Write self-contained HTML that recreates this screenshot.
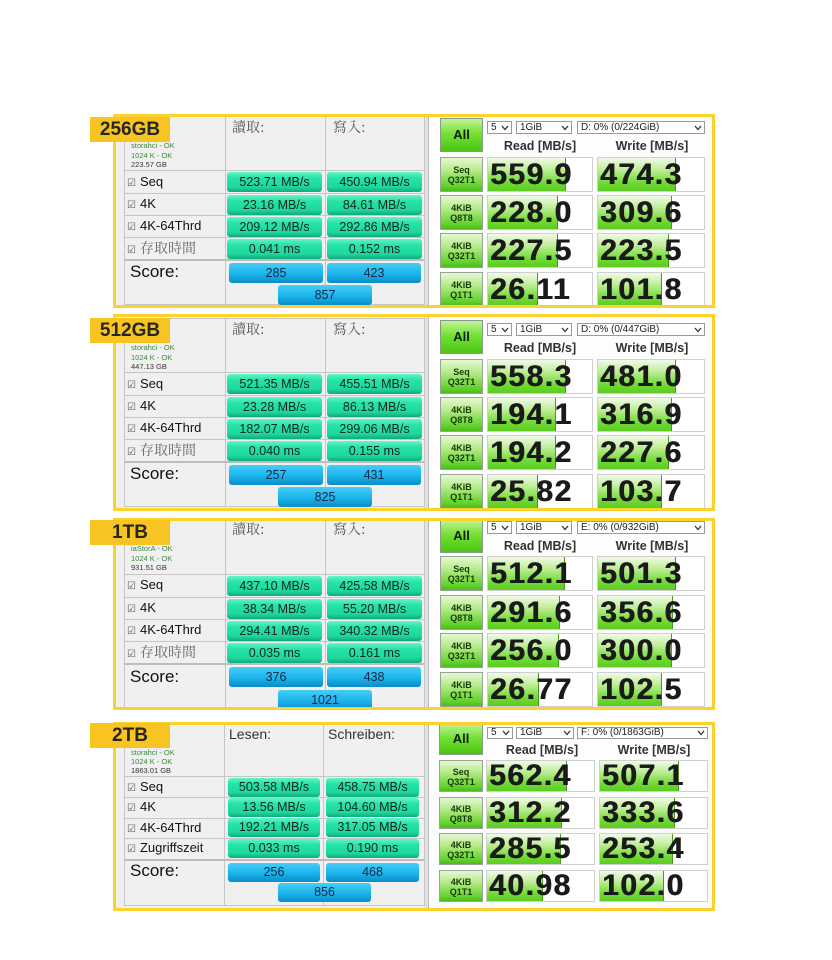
<!DOCTYPE html>
<html><head><meta charset="utf-8">
<style>
*{margin:0;padding:0;box-sizing:border-box}
html,body{width:832px;height:960px;background:#fff;overflow:hidden;font-family:"Liberation Sans","Noto Sans CJK TC",sans-serif}
.pn{position:absolute;left:113px;width:602px}
.pn div{position:absolute}
.frame{left:0;top:0;width:602px;border:3px solid #fdd22c;z-index:5}
.asbg{left:3px;top:3px;width:312px;background:#f0f0f0}
.cdbg{left:315px;top:3px;width:284px;background:#fdfdfd}
.sep{left:311px;top:3px;width:5px;background:#e2e2e2;border-right:1px solid #b8b8b8}
.lbl{left:-23px;width:80px;height:25px;background:#f8c422;z-index:6;font:bold 19px/25px "Liberation Sans",sans-serif;color:#262626;text-align:center}
.as,.cd{left:0;width:602px;height:0}
.tb{border:1px solid #c6c6c6}
.vl{width:1px;background:#c6c6c6}
.hl{height:1px;background:#c6c6c6;left:11px;width:301px}
.hd{font:14px/16px "Noto Serif CJK TC","Noto Serif CJK SC",serif;color:#555;white-space:nowrap}
.hd2{font:14px/16px "Liberation Sans",sans-serif;color:#333;white-space:nowrap}
.inf{left:18px;font:7.5px/9.5px "Liberation Sans",sans-serif;color:#3a8a3a;white-space:nowrap}
.inf b{font-weight:normal;color:#333}
.rl{left:14px;font:13px/20px "Liberation Sans",sans-serif;color:#111;white-space:nowrap}
.rl i{font-style:normal;font-family:"Noto Serif CJK TC","Noto Serif CJK SC",serif;color:#666;font-size:14px}
.ck{font-family:"DejaVu Sans",sans-serif;font-size:10px;color:#555;margin-right:4px}
.gb{height:20px;width:95px;border-radius:3px;background:linear-gradient(#66f3c8,#26e4a8 30%,#1ed89c 75%,#10aa80);font:12.5px/20px "Liberation Sans",sans-serif;color:#13261c;text-align:center}
.bb{height:20px;width:94px;border-radius:3px;background:linear-gradient(#46cdf6,#1ab4ec 55%,#0c8cc6);font:12.5px/20px "Liberation Sans",sans-serif;color:#17284a;text-align:center}
.sc{left:17px;font:17px/20px "Liberation Sans",sans-serif;color:#111}
.all{width:43px;height:34px;border:1px solid #8a9a8a;background:linear-gradient(#c2f29a,#74e234 45%,#4cc414);font:bold 13px/32px "Liberation Sans",sans-serif;color:#102010;text-align:center}
.dd{height:13px;border:1px solid #9a9a9a;background:#fff;font:10px/11px "Liberation Sans",sans-serif;color:#222;padding-left:3px;white-space:nowrap}
.dd svg{position:absolute;right:2px;top:3px}
.ch{font:bold 12.5px/14px "Liberation Sans",sans-serif;color:#333;width:120px;text-align:center}
.bt{width:43px;height:35px;border:1px solid #9aa39a;background:linear-gradient(#e6f8d4,#b2ea84 40%,#62d22c 85%,#4cbc1c);font:bold 9px/10px "Liberation Sans",sans-serif;color:#173a06;text-align:center;padding-top:7px}
.cl{height:35px;border:1px solid #cfcfcf;background:#fff;overflow:hidden}
.fl{left:0;top:0;bottom:0;background:linear-gradient(#f0fbe8,#c0ee98 35%,#70da34 75%,#5ccc22);border-right:1px solid #4a9a20}
.nv{left:2px;top:0;font:bold 30px/33px "Liberation Sans",sans-serif;letter-spacing:1.5px;color:#1a1a1a;white-space:nowrap;text-shadow:0.6px 0 0 #1a1a1a}
</style></head><body>

<!-- PANEL 1 -->
<div class="pn" style="top:114px;height:194px">
<div class="asbg" style="height:188px"></div>
<div class="cdbg" style="height:188px"></div>
<div class="sep" style="height:188px"></div>
<div class="frame" style="height:194px"></div>
<div class="lbl" style="top:3px">256GB</div>
<div class="as" style="top:0">
 <div class="tb" style="left:11px;top:2px;width:301px;height:189px"></div>
 <div class="vl" style="left:112px;top:2px;height:189px"></div>
 <div class="vl" style="left:212px;top:2px;height:189px"></div>
 <div class="hl" style="top:56px"></div>
 <div class="hl" style="top:79px"></div>
 <div class="hl" style="top:101px"></div>
 <div class="hl" style="top:123px"></div>
 <div class="hl" style="top:145px;height:2px;background:#bdbdbd"></div>
 <div class="hd" style="left:119px;top:5px">讀取:</div>
 <div class="hd" style="left:220px;top:5px">寫入:</div>
 <div class="inf" style="top:27px">storahci - OK<br>1024 K - OK<br><b>223.57 GB</b></div>
 <div class="rl" style="top:58px"><span class="ck">☑</span>Seq</div>
 <div class="rl" style="top:80px"><span class="ck">☑</span>4K</div>
 <div class="rl" style="top:102px"><span class="ck">☑</span>4K-64Thrd</div>
 <div class="rl" style="top:124px"><span class="ck">☑</span><i>存取時間</i></div>
 <div class="gb" style="left:114px;top:58px">523.71 MB/s</div>
 <div class="gb" style="left:214px;top:58px">450.94 MB/s</div>
 <div class="gb" style="left:114px;top:81px">23.16 MB/s</div>
 <div class="gb" style="left:214px;top:81px">84.61 MB/s</div>
 <div class="gb" style="left:114px;top:103px">209.12 MB/s</div>
 <div class="gb" style="left:214px;top:103px">292.86 MB/s</div>
 <div class="gb" style="left:114px;top:125px">0.041 ms</div>
 <div class="gb" style="left:214px;top:125px">0.152 ms</div>
 <div class="sc" style="top:148px">Score:</div>
 <div class="bb" style="left:116px;top:149px">285</div>
 <div class="bb" style="left:214px;top:149px">423</div>
 <div class="bb" style="left:165px;top:171px">857</div>
</div>
<div class="cd" style="top:0">
 <div class="all" style="left:327px;top:4px">All</div>
 <div class="dd" style="left:374px;top:7px;width:25px">5<svg width="8" height="6" viewBox="0 0 8 6"><polyline points="1,1 4,4.5 7,1" fill="none" stroke="#333" stroke-width="1.3"/></svg></div>
 <div class="dd" style="left:403px;top:7px;width:56px">1GiB<svg width="8" height="6" viewBox="0 0 8 6"><polyline points="1,1 4,4.5 7,1" fill="none" stroke="#333" stroke-width="1.3"/></svg></div>
 <div class="dd" style="left:464px;top:7px;width:128px">D: 0% (0/224GiB)<svg width="8" height="6" viewBox="0 0 8 6"><polyline points="1,1 4,4.5 7,1" fill="none" stroke="#333" stroke-width="1.3"/></svg></div>
 <div class="ch" style="left:367px;top:25px">Read [MB/s]</div>
 <div class="ch" style="left:479px;top:25px">Write [MB/s]</div>
 <div class="bt" style="left:327px;top:43px">Seq<br>Q32T1</div>
 <div class="cl" style="left:374px;top:43px;width:106px"><div class="fl" style="width:78px"></div><div class="nv">559.9</div></div>
 <div class="cl" style="left:484px;top:43px;width:108px"><div class="fl" style="width:78px"></div><div class="nv">474.3</div></div>
 <div class="bt" style="left:327px;top:81px">4KiB<br>Q8T8</div>
 <div class="cl" style="left:374px;top:81px;width:106px"><div class="fl" style="width:70px"></div><div class="nv">228.0</div></div>
 <div class="cl" style="left:484px;top:81px;width:108px"><div class="fl" style="width:74px"></div><div class="nv">309.6</div></div>
 <div class="bt" style="left:327px;top:119px">4KiB<br>Q32T1</div>
 <div class="cl" style="left:374px;top:119px;width:106px"><div class="fl" style="width:70px"></div><div class="nv">227.5</div></div>
 <div class="cl" style="left:484px;top:119px;width:108px"><div class="fl" style="width:71px"></div><div class="nv">223.5</div></div>
 <div class="bt" style="left:327px;top:158px">4KiB<br>Q1T1</div>
 <div class="cl" style="left:374px;top:158px;width:106px"><div class="fl" style="width:50px"></div><div class="nv">26.11</div></div>
 <div class="cl" style="left:484px;top:158px;width:108px"><div class="fl" style="width:64px"></div><div class="nv">101.8</div></div>
</div>
</div>

<!-- PANEL 2 -->
<div class="pn" style="top:314px;height:197px">
<div class="asbg" style="height:191px"></div>
<div class="cdbg" style="height:191px"></div>
<div class="sep" style="height:191px"></div>
<div class="frame" style="height:197px"></div>
<div class="lbl" style="top:4px">512GB</div>
<div class="as" style="top:2px">
 <div class="tb" style="left:11px;top:2px;width:301px;height:189px"></div>
 <div class="vl" style="left:112px;top:2px;height:189px"></div>
 <div class="vl" style="left:212px;top:2px;height:189px"></div>
 <div class="hl" style="top:56px"></div>
 <div class="hl" style="top:79px"></div>
 <div class="hl" style="top:101px"></div>
 <div class="hl" style="top:123px"></div>
 <div class="hl" style="top:145px;height:2px;background:#bdbdbd"></div>
 <div class="hd" style="left:119px;top:5px">讀取:</div>
 <div class="hd" style="left:220px;top:5px">寫入:</div>
 <div class="inf" style="top:27px">storahci - OK<br>1024 K - OK<br><b>447.13 GB</b></div>
 <div class="rl" style="top:58px"><span class="ck">☑</span>Seq</div>
 <div class="rl" style="top:80px"><span class="ck">☑</span>4K</div>
 <div class="rl" style="top:102px"><span class="ck">☑</span>4K-64Thrd</div>
 <div class="rl" style="top:124px"><span class="ck">☑</span><i>存取時間</i></div>
 <div class="gb" style="left:114px;top:58px">521.35 MB/s</div>
 <div class="gb" style="left:214px;top:58px">455.51 MB/s</div>
 <div class="gb" style="left:114px;top:81px">23.28 MB/s</div>
 <div class="gb" style="left:214px;top:81px">86.13 MB/s</div>
 <div class="gb" style="left:114px;top:103px">182.07 MB/s</div>
 <div class="gb" style="left:214px;top:103px">299.06 MB/s</div>
 <div class="gb" style="left:114px;top:125px">0.040 ms</div>
 <div class="gb" style="left:214px;top:125px">0.155 ms</div>
 <div class="sc" style="top:148px">Score:</div>
 <div class="bb" style="left:116px;top:149px">257</div>
 <div class="bb" style="left:214px;top:149px">431</div>
 <div class="bb" style="left:165px;top:171px">825</div>
</div>
<div class="cd" style="top:2px">
 <div class="all" style="left:327px;top:4px">All</div>
 <div class="dd" style="left:374px;top:7px;width:25px">5<svg width="8" height="6" viewBox="0 0 8 6"><polyline points="1,1 4,4.5 7,1" fill="none" stroke="#333" stroke-width="1.3"/></svg></div>
 <div class="dd" style="left:403px;top:7px;width:56px">1GiB<svg width="8" height="6" viewBox="0 0 8 6"><polyline points="1,1 4,4.5 7,1" fill="none" stroke="#333" stroke-width="1.3"/></svg></div>
 <div class="dd" style="left:464px;top:7px;width:128px">D: 0% (0/447GiB)<svg width="8" height="6" viewBox="0 0 8 6"><polyline points="1,1 4,4.5 7,1" fill="none" stroke="#333" stroke-width="1.3"/></svg></div>
 <div class="ch" style="left:367px;top:25px">Read [MB/s]</div>
 <div class="ch" style="left:479px;top:25px">Write [MB/s]</div>
 <div class="bt" style="left:327px;top:43px">Seq<br>Q32T1</div>
 <div class="cl" style="left:374px;top:43px;width:106px"><div class="fl" style="width:78px"></div><div class="nv">558.3</div></div>
 <div class="cl" style="left:484px;top:43px;width:108px"><div class="fl" style="width:78px"></div><div class="nv">481.0</div></div>
 <div class="bt" style="left:327px;top:81px">4KiB<br>Q8T8</div>
 <div class="cl" style="left:374px;top:81px;width:106px"><div class="fl" style="width:68px"></div><div class="nv">194.1</div></div>
 <div class="cl" style="left:484px;top:81px;width:108px"><div class="fl" style="width:74px"></div><div class="nv">316.9</div></div>
 <div class="bt" style="left:327px;top:119px">4KiB<br>Q32T1</div>
 <div class="cl" style="left:374px;top:119px;width:106px"><div class="fl" style="width:68px"></div><div class="nv">194.2</div></div>
 <div class="cl" style="left:484px;top:119px;width:108px"><div class="fl" style="width:71px"></div><div class="nv">227.6</div></div>
 <div class="bt" style="left:327px;top:158px">4KiB<br>Q1T1</div>
 <div class="cl" style="left:374px;top:158px;width:106px"><div class="fl" style="width:50px"></div><div class="nv">25.82</div></div>
 <div class="cl" style="left:484px;top:158px;width:108px"><div class="fl" style="width:64px"></div><div class="nv">103.7</div></div>
</div>
</div>

<!-- PANEL 3 -->
<div class="pn" style="top:518px;height:192px">
<div class="asbg" style="height:186px"></div>
<div class="cdbg" style="height:186px"></div>
<div class="sep" style="height:186px"></div>
<div class="frame" style="height:192px"></div>
<div class="lbl" style="top:2px">1TB</div>
<div class="as" style="top:0">
 <div class="tb" style="left:11px;top:2px;width:301px;height:188px"></div>
 <div class="vl" style="left:112px;top:2px;height:188px"></div>
 <div class="vl" style="left:212px;top:2px;height:188px"></div>
 <div class="hl" style="top:56px"></div>
 <div class="hl" style="top:79px"></div>
 <div class="hl" style="top:101px"></div>
 <div class="hl" style="top:123px"></div>
 <div class="hl" style="top:145px;height:2px;background:#bdbdbd"></div>
 <div class="hd" style="left:119px;top:3px">讀取:</div>
 <div class="hd" style="left:220px;top:3px">寫入:</div>
 <div class="inf" style="top:26px">iaStorA - OK<br>1024 K - OK<br><b>931.51 GB</b></div>
 <div class="rl" style="top:57px"><span class="ck">☑</span>Seq</div>
 <div class="rl" style="top:80px"><span class="ck">☑</span>4K</div>
 <div class="rl" style="top:102px"><span class="ck">☑</span>4K-64Thrd</div>
 <div class="rl" style="top:124px"><span class="ck">☑</span><i>存取時間</i></div>
 <div class="gb" style="left:114px;top:58px">437.10 MB/s</div>
 <div class="gb" style="left:214px;top:58px">425.58 MB/s</div>
 <div class="gb" style="left:114px;top:81px">38.34 MB/s</div>
 <div class="gb" style="left:214px;top:81px">55.20 MB/s</div>
 <div class="gb" style="left:114px;top:103px">294.41 MB/s</div>
 <div class="gb" style="left:214px;top:103px">340.32 MB/s</div>
 <div class="gb" style="left:114px;top:125px">0.035 ms</div>
 <div class="gb" style="left:214px;top:125px">0.161 ms</div>
 <div class="sc" style="top:149px">Score:</div>
 <div class="bb" style="left:116px;top:149px">376</div>
 <div class="bb" style="left:214px;top:149px">438</div>
 <div class="bb" style="left:165px;top:172px">1021</div>
</div>
<div class="cd" style="top:-4px">
 <div class="all" style="left:327px;top:5px">All</div>
 <div class="dd" style="left:374px;top:7px;width:25px">5<svg width="8" height="6" viewBox="0 0 8 6"><polyline points="1,1 4,4.5 7,1" fill="none" stroke="#333" stroke-width="1.3"/></svg></div>
 <div class="dd" style="left:403px;top:7px;width:56px">1GiB<svg width="8" height="6" viewBox="0 0 8 6"><polyline points="1,1 4,4.5 7,1" fill="none" stroke="#333" stroke-width="1.3"/></svg></div>
 <div class="dd" style="left:464px;top:7px;width:128px">E: 0% (0/932GiB)<svg width="8" height="6" viewBox="0 0 8 6"><polyline points="1,1 4,4.5 7,1" fill="none" stroke="#333" stroke-width="1.3"/></svg></div>
 <div class="ch" style="left:367px;top:25px">Read [MB/s]</div>
 <div class="ch" style="left:479px;top:25px">Write [MB/s]</div>
 <div class="bt" style="left:327px;top:42px">Seq<br>Q32T1</div>
 <div class="cl" style="left:374px;top:42px;width:106px"><div class="fl" style="width:77px"></div><div class="nv">512.1</div></div>
 <div class="cl" style="left:484px;top:42px;width:108px"><div class="fl" style="width:78px"></div><div class="nv">501.3</div></div>
 <div class="bt" style="left:327px;top:81px">4KiB<br>Q8T8</div>
 <div class="cl" style="left:374px;top:81px;width:106px"><div class="fl" style="width:72px"></div><div class="nv">291.6</div></div>
 <div class="cl" style="left:484px;top:81px;width:108px"><div class="fl" style="width:75px"></div><div class="nv">356.6</div></div>
 <div class="bt" style="left:327px;top:119px">4KiB<br>Q32T1</div>
 <div class="cl" style="left:374px;top:119px;width:106px"><div class="fl" style="width:71px"></div><div class="nv">256.0</div></div>
 <div class="cl" style="left:484px;top:119px;width:108px"><div class="fl" style="width:74px"></div><div class="nv">300.0</div></div>
 <div class="bt" style="left:327px;top:158px">4KiB<br>Q1T1</div>
 <div class="cl" style="left:374px;top:158px;width:106px"><div class="fl" style="width:51px"></div><div class="nv">26.77</div></div>
 <div class="cl" style="left:484px;top:158px;width:108px"><div class="fl" style="width:64px"></div><div class="nv">102.5</div></div>
</div>
</div>

<!-- PANEL 4 -->
<div class="pn" style="top:722px;height:189px">
<div class="asbg" style="height:183px"></div>
<div class="cdbg" style="height:183px"></div>
<div class="sep" style="height:183px"></div>
<div class="frame" style="height:189px"></div>
<div class="lbl" style="top:1px">2TB</div>
<div class="as" style="top:0">
 <div class="tb" style="left:11px;top:2px;width:301px;height:182px"></div>
 <div class="vl" style="left:111px;top:2px;height:182px"></div>
 <div class="vl" style="left:210px;top:2px;height:182px"></div>
 <div class="hl" style="top:54px"></div>
 <div class="hl" style="top:75px"></div>
 <div class="hl" style="top:96px"></div>
 <div class="hl" style="top:116px"></div>
 <div class="hl" style="top:137px;height:2px;background:#bdbdbd"></div>
 <div class="hd2" style="left:116px;top:4px">Lesen:</div>
 <div class="hd2" style="left:215px;top:4px">Schreiben:</div>
 <div class="inf" style="top:26px;line-height:9px">storahci - OK<br>1024 K - OK<br><b>1863.01 GB</b></div>
 <div class="rl" style="top:55px"><span class="ck">☑</span>Seq</div>
 <div class="rl" style="top:75px"><span class="ck">☑</span>4K</div>
 <div class="rl" style="top:96px"><span class="ck">☑</span>4K-64Thrd</div>
 <div class="rl" style="top:116px"><span class="ck">☑</span>Zugriffszeit</div>
 <div class="gb" style="left:115px;top:56px;width:92px;height:19px;line-height:19px">503.58 MB/s</div>
 <div class="gb" style="left:213px;top:56px;width:93px;height:19px;line-height:19px">458.75 MB/s</div>
 <div class="gb" style="left:115px;top:76px;width:92px;height:19px;line-height:19px">13.56 MB/s</div>
 <div class="gb" style="left:213px;top:76px;width:93px;height:19px;line-height:19px">104.60 MB/s</div>
 <div class="gb" style="left:115px;top:96px;width:92px;height:19px;line-height:19px">192.21 MB/s</div>
 <div class="gb" style="left:213px;top:96px;width:93px;height:19px;line-height:19px">317.05 MB/s</div>
 <div class="gb" style="left:115px;top:117px;width:92px;height:19px;line-height:19px">0.033 ms</div>
 <div class="gb" style="left:213px;top:117px;width:93px;height:19px;line-height:19px">0.190 ms</div>
 <div class="sc" style="top:139px">Score:</div>
 <div class="bb" style="left:115px;top:141px;width:92px;height:19px;line-height:19px">256</div>
 <div class="bb" style="left:213px;top:141px;width:93px;height:19px;line-height:19px">468</div>
 <div class="bb" style="left:165px;top:161px;width:93px;height:19px;line-height:19px">856</div>
</div>
<div class="cd" style="top:0">
 <div class="all" style="left:326px;top:1px;width:44px;height:32px;line-height:30px">All</div>
 <div class="dd" style="left:374px;top:5px;width:26px;height:12px;line-height:10px">5<svg width="8" height="6" viewBox="0 0 8 6" style="top:2px"><polyline points="1,1 4,4.5 7,1" fill="none" stroke="#333" stroke-width="1.3"/></svg></div>
 <div class="dd" style="left:403px;top:5px;width:58px;height:12px;line-height:10px">1GiB<svg width="8" height="6" viewBox="0 0 8 6" style="top:2px"><polyline points="1,1 4,4.5 7,1" fill="none" stroke="#333" stroke-width="1.3"/></svg></div>
 <div class="dd" style="left:464px;top:5px;width:131px;height:12px;line-height:10px">F: 0% (0/1863GiB)<svg width="8" height="6" viewBox="0 0 8 6" style="top:2px"><polyline points="1,1 4,4.5 7,1" fill="none" stroke="#333" stroke-width="1.3"/></svg></div>
 <div class="ch" style="left:369px;top:21px">Read [MB/s]</div>
 <div class="ch" style="left:481px;top:21px">Write [MB/s]</div>
 <div class="bt" style="left:326px;top:38px;width:44px;height:32px;padding-top:6px">Seq<br>Q32T1</div>
 <div class="cl" style="left:373px;top:38px;width:109px;height:32px"><div class="fl" style="width:80px"></div><div class="nv" style="line-height:30px">562.4</div></div>
 <div class="cl" style="left:486px;top:38px;width:109px;height:32px"><div class="fl" style="width:79px"></div><div class="nv" style="line-height:30px">507.1</div></div>
 <div class="bt" style="left:326px;top:75px;width:44px;height:32px;padding-top:6px">4KiB<br>Q8T8</div>
 <div class="cl" style="left:373px;top:75px;width:109px;height:32px"><div class="fl" style="width:75px"></div><div class="nv" style="line-height:30px">312.2</div></div>
 <div class="cl" style="left:486px;top:75px;width:109px;height:32px"><div class="fl" style="width:75px"></div><div class="nv" style="line-height:30px">333.6</div></div>
 <div class="bt" style="left:326px;top:111px;width:44px;height:32px;padding-top:6px">4KiB<br>Q32T1</div>
 <div class="cl" style="left:373px;top:111px;width:109px;height:32px"><div class="fl" style="width:74px"></div><div class="nv" style="line-height:30px">285.5</div></div>
 <div class="cl" style="left:486px;top:111px;width:109px;height:32px"><div class="fl" style="width:73px"></div><div class="nv" style="line-height:30px">253.4</div></div>
 <div class="bt" style="left:326px;top:148px;width:44px;height:32px;padding-top:6px">4KiB<br>Q1T1</div>
 <div class="cl" style="left:373px;top:148px;width:109px;height:32px"><div class="fl" style="width:56px"></div><div class="nv" style="line-height:30px">40.98</div></div>
 <div class="cl" style="left:486px;top:148px;width:109px;height:32px"><div class="fl" style="width:64px"></div><div class="nv" style="line-height:30px">102.0</div></div>
</div>
</div>

</body></html>
